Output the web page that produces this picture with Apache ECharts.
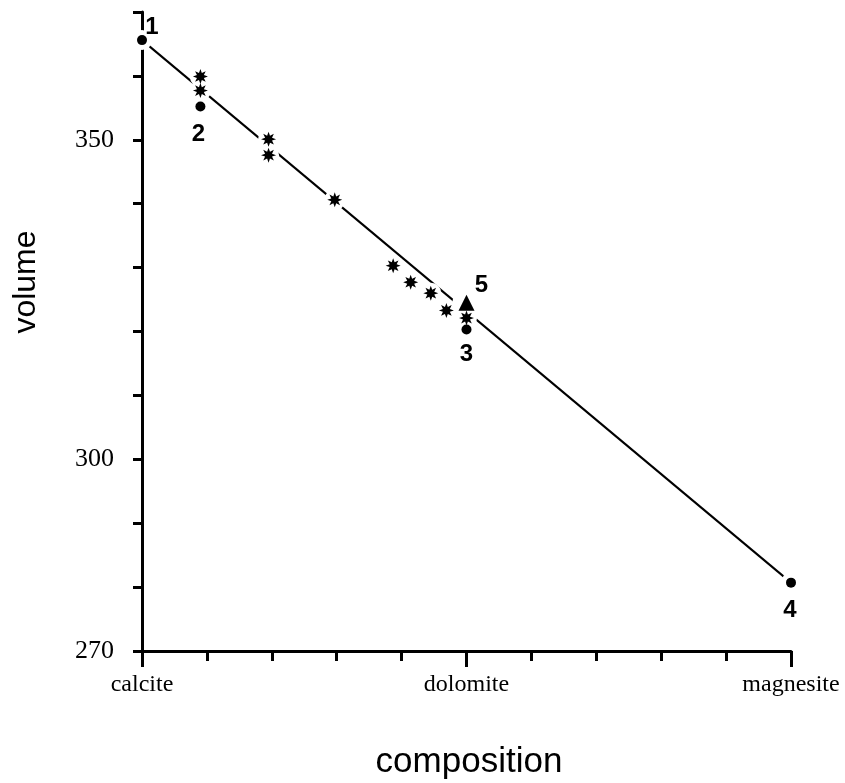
<!DOCTYPE html>
<html>
<head>
<meta charset="utf-8">
<script src="https://cdn.jsdelivr.net/npm/echarts@6/dist/echarts.min.js"></script>
<style>html,body{margin:0;padding:0;background:#fff}#c{width:845px;height:783px}</style>
</head>
<body>
<div id="c"></div>
<script>
// ---- data ----
const xTickValues = [0, 0.5, 1];
const xTickLabels = ['calcite', 'dolomite', 'magnesite'];
const yLabelValues = [270, 300, 350];

const trendX = [0, 1];
const trendY = [365.6, 280.7];

const dotNames = ['1', '2', '3', '4'];
const dotX = [0, 0.09, 0.5, 1.0];
const dotY = [365.6, 355.2, 320.3, 280.7];

const triNames = ['5'];
const triX = [0.5];
const triY = [324.5];

const starX = [0.09, 0.09, 0.195, 0.195, 0.297, 0.387, 0.414, 0.445, 0.469, 0.5];
const starY = [359.9, 357.7, 350.1, 347.6, 340.6, 330.3, 327.7, 326.0, 323.3, 322.1];

// ---- build ----
const zip = (xs, ys) => xs.map((x, i) => [x, ys[i]]);
const starPath = 'path://M10,0 L11.91,5.38 L17.07,2.93 L14.62,8.09 L20,10 L14.62,11.91 L17.07,17.07 L11.91,14.62 L10,20 L8.09,14.62 L2.93,17.07 L5.38,11.91 L0,10 L5.38,8.09 L2.93,2.93 L8.09,5.38 Z';

const labelOffsets = {'1': [10, -13], '2': [-2, 28], '3': [0, 25], '4': [-1, 28], '5': [15, -17]};
const numLabel = {
  show: true,
  formatter: p => p.data.name,
  position: 'inside',
  color: '#000',
  fontFamily: 'Liberation Sans',
  fontWeight: 'bold',
  fontSize: 24
};
const dotData = dotX.map((x, i) => ({name: dotNames[i], value: [x, dotY[i]], label: {offset: labelOffsets[dotNames[i]]}}));
const triData = triX.map((x, i) => ({name: triNames[i], value: [x, triY[i]], label: {offset: labelOffsets[triNames[i]]}}));

const black = {color: '#000', opacity: 1};
const white = {color: '#fff', opacity: 1};

const chart = echarts.init(document.getElementById('c'));
chart.setOption({
  backgroundColor: '#fff',
  animation: false,
  grid: {left: 142, right: 54, top: 12, bottom: 132},
  xAxis: {
    type: 'value', min: 0, max: 1, interval: 0.5,
    axisLine: {show: true, onZero: false, lineStyle: {color: '#000', width: 3}},
    axisTick: {show: true, length: 16, lineStyle: {color: '#000', width: 3}},
    minorTick: {show: true, splitNumber: 5, length: 10, lineStyle: {color: '#000', width: 3}},
    splitLine: {show: false},
    minorSplitLine: {show: false},
    axisLabel: {
      margin: 22, color: '#000', fontFamily: 'Liberation Serif', fontSize: 24,
      formatter: v => { const i = xTickValues.findIndex(t => Math.abs(t - v) < 1e-6); return i >= 0 ? xTickLabels[i] : ''; }
    }
  },
  yAxis: {
    type: 'value', min: 270, max: 370, interval: 10,
    axisLine: {show: true, onZero: false, lineStyle: {color: '#000', width: 3}},
    axisTick: {show: true, length: 9, lineStyle: {color: '#000', width: 3}},
    splitLine: {show: false},
    axisLabel: {
      margin: 28, color: '#000', fontFamily: 'Liberation Serif', fontSize: 26,
      formatter: v => yLabelValues.includes(v) ? String(v) : ''
    }
  },
  graphic: [
    {type: 'text', x: 26, y: 282, rotation: Math.PI / 2,
     style: {text: 'volume', fontFamily: 'Liberation Sans', fontSize: 32, fill: '#000', textAlign: 'center', textVerticalAlign: 'middle'}},
    {type: 'text', x: 469, y: 762,
     style: {text: 'composition', fontFamily: 'Liberation Sans', fontSize: 35, fill: '#000', textAlign: 'center', textVerticalAlign: 'middle'}}
  ],
  series: [
    {type: 'line', data: zip(trendX, trendY), symbol: 'none', lineStyle: {color: '#000', width: 2}, z: 1, silent: true},
    // white halos to break the line around the markers
    {type: 'scatter', data: zip(starX, starY), symbol: 'circle', symbolSize: 21, itemStyle: white, z: 2, silent: true},
    {type: 'scatter', data: zip(dotX, dotY), symbol: 'circle', symbolSize: 20, itemStyle: white, z: 2, silent: true},
    {type: 'scatter', data: zip(triX, triY), symbol: 'circle', symbolSize: 28, itemStyle: white, z: 2, silent: true},
    // marks
    {type: 'scatter', data: zip(starX, starY), symbol: starPath, symbolSize: 15, itemStyle: black, z: 3},
    {type: 'scatter', data: dotData, symbol: 'circle', symbolSize: 10, itemStyle: black, label: numLabel, z: 3},
    {type: 'scatter', data: triData, symbol: 'triangle', symbolSize: 16, itemStyle: black, label: numLabel, z: 3}
  ]
});
</script>
</body>
</html>
